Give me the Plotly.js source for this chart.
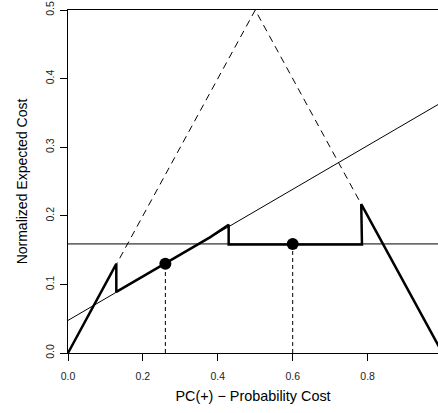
<!DOCTYPE html>
<html><head><meta charset="utf-8">
<script src="https://cdn.plot.ly/plotly-3.0.1.min.js"></script>
<style>html,body{margin:0;padding:0;background:#fff}#c{width:438px;height:413px}</style>
</head><body><div id="c"></div>
<script>
// Data
const triX = [0, 0.5, 1];
const triY = [0, 0.5, 0];
const slopeX = [0, 1];
const slopeY = [0.0475, 0.366];
const flatX = [0, 1];
const flatY = [0.159, 0.159];
const envX = [0, 0.129, 0.129, 0.38, 0.429, 0.429, 0.785, 0.783, 1];
const envY = [0, 0.130, 0.089, 0.169, 0.187, 0.158, 0.158, 0.217, 0];
const dotX = [0.26, 0.6];
const dotY = [0.130, 0.159];
const xTicks = [0, 0.2, 0.4, 0.6, 0.8];
const xTickText = ['0.0', '0.2', '0.4', '0.6', '0.8'];
const yTicks = [0, 0.1, 0.2, 0.3, 0.4, 0.5];
const yTickText = ['0.0', '0.1', '0.2', '0.3', '0.4', '0.5'];

const traces = [
  {x: triX, y: triY, mode: 'lines', line: {color: '#000', width: 1, dash: '7px,5px'}},
  {x: slopeX, y: slopeY, mode: 'lines', line: {color: '#000', width: 1}},
  {x: flatX, y: flatY, mode: 'lines', line: {color: '#000', width: 1}},
  {x: [dotX[0], dotX[0]], y: [0, dotY[0]], mode: 'lines', line: {color: '#000', width: 1, dash: '4px,3px'}},
  {x: [dotX[1], dotX[1]], y: [0, dotY[1]], mode: 'lines', line: {color: '#000', width: 1, dash: '4px,3px'}},
  {x: envX, y: envY, mode: 'lines', line: {color: '#000', width: 2.5}},
  {x: dotX, y: dotY, mode: 'markers', marker: {color: '#000', size: 12}}
];

const layout = {
  width: 438, height: 413,
  margin: {l: 68, r: 0, t: 10, b: 60},
  showlegend: false,
  paper_bgcolor: '#fff', plot_bgcolor: '#fff',
  font: {family: 'Liberation Sans, Arial, sans-serif', color: '#000'},
  xaxis: {
    range: [0, 0.988], showgrid: false, zeroline: false,
    showline: true, mirror: true, linecolor: '#000', linewidth: 1,
    tickmode: 'array', tickvals: xTicks, ticktext: xTickText,
    ticks: 'outside', ticklen: 7, tickcolor: '#000', tickwidth: 1,
    tickfont: {size: 10.5, color: '#222'}, ticklabelstandoff: 6,
    title: {text: 'PC(+) \u2212 Probability Cost', font: {size: 14.4, color: '#000'}, standoff: 10}
  },
  yaxis: {
    range: [0, 0.5], showgrid: false, zeroline: false,
    showline: true, linecolor: '#000', linewidth: 1,
    tickmode: 'array', tickvals: yTicks, ticktext: yTickText,
    ticks: 'outside', ticklen: 7, tickcolor: '#000', tickwidth: 1, tickangle: -90,
    tickfont: {size: 10.5, color: '#222'}, ticklabelstandoff: 2,
    title: {text: 'Normalized Expected Cost', font: {size: 14, color: '#000'}, standoff: 12}
  }
};

Plotly.newPlot('c', traces, layout, {displayModeBar: false, staticPlot: true});
</script>
</body></html>
